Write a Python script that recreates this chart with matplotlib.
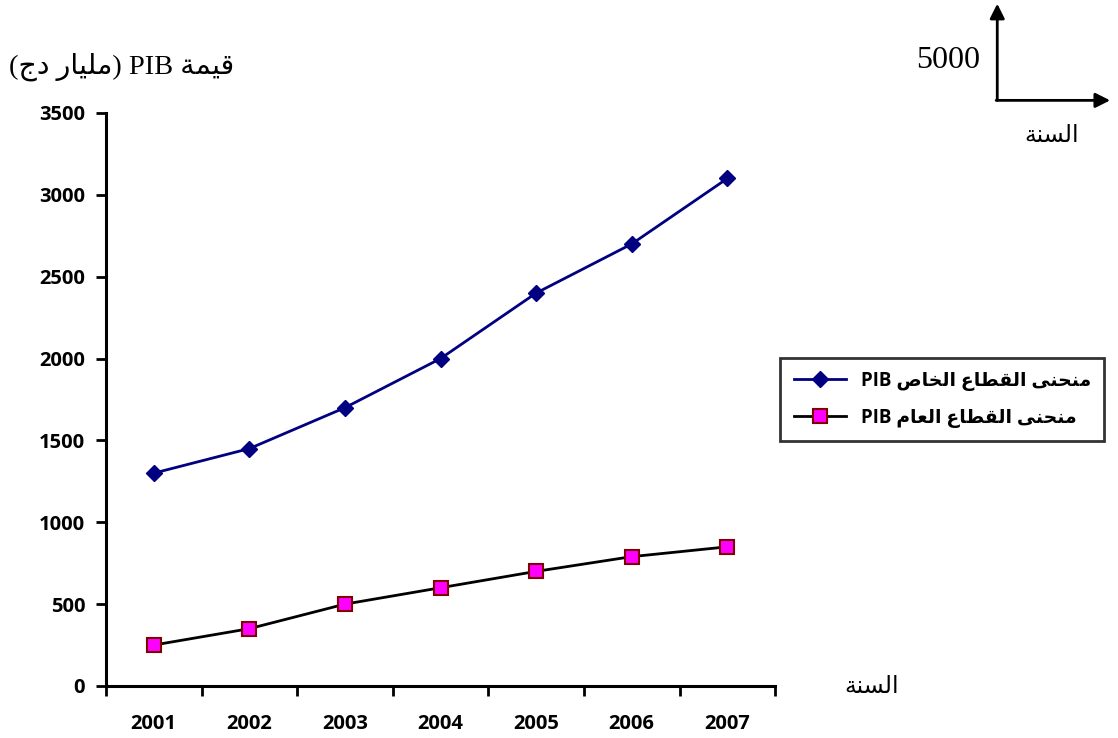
import numpy as np
import matplotlib.pyplot as plt

# السنوات وقيم الناتج (مليار دج)
annees = ['2001', '2002', '2003', '2004', '2005', '2006', '2007']
pib_prive = [1300, 1450, 1700, 2000, 2400, 2700, 3100]
pib_public = [250, 350, 500, 600, 700, 790, 850]

# اشكال الحروف: (منفرد، نهائي، بدائي، وسطي)
FORMES = {
    'ا': (0xFE8D, 0xFE8E, None, None),
    'ة': (0xFE93, 0xFE94, None, None),
    'ج': (0xFE9D, 0xFE9E, 0xFE9F, 0xFEA0),
    'ح': (0xFEA1, 0xFEA2, 0xFEA3, 0xFEA4),
    'خ': (0xFEA5, 0xFEA6, 0xFEA7, 0xFEA8),
    'د': (0xFEA9, 0xFEAA, None, None),
    'ر': (0xFEAD, 0xFEAE, None, None),
    'س': (0xFEB1, 0xFEB2, 0xFEB3, 0xFEB4),
    'ص': (0xFEB9, 0xFEBA, 0xFEBB, 0xFEBC),
    'ط': (0xFEC1, 0xFEC2, 0xFEC3, 0xFEC4),
    'ع': (0xFEC9, 0xFECA, 0xFECB, 0xFECC),
    'ق': (0xFED5, 0xFED6, 0xFED7, 0xFED8),
    'ل': (0xFEDD, 0xFEDE, 0xFEDF, 0xFEE0),
    'م': (0xFEE1, 0xFEE2, 0xFEE3, 0xFEE4),
    'ن': (0xFEE5, 0xFEE6, 0xFEE7, 0xFEE8),
    'ى': (0xFEEF, 0xFEF0, None, None),
    'ي': (0xFEF1, 0xFEF2, 0xFEF3, 0xFEF4),
}


def arabe(texte):
    # وصل الحروف ثم قلب الترتيب للعرض من اليمين الى اليسار
    out = []
    for i, c in enumerate(texte):
        if c not in FORMES:
            out.append({'(': ')', ')': '('}.get(c, c))
            continue
        avant = texte[i - 1] if i > 0 else ''
        apres = texte[i + 1] if i + 1 < len(texte) else ''
        lie_avant = avant in FORMES and FORMES[avant][2] is not None
        lie_apres = apres in FORMES and FORMES[c][2] is not None
        iso, fin, ini, med = FORMES[c]
        if lie_avant and lie_apres:
            g = med
        elif lie_avant:
            g = fin
        elif lie_apres:
            g = ini
        else:
            g = iso
        out.append(chr(g))
    return ''.join(out)[::-1]


plt.rcParams['font.family'] = ['Open Sans', 'DejaVu Sans']
plt.rcParams['font.weight'] = 'bold'

fig = plt.figure(figsize=(11.18, 7.38), dpi=100)
ax = fig.add_axes([0.0948, 0.0705, 0.5985, 0.7764])

x = np.arange(1, len(annees) + 1)
ax.plot(x, pib_prive, color='#000080', lw=2, marker='D', ms=8,
        mfc='#000080', mec='#000080',
        label='PIB ' + arabe('منحنى القطاع الخاص'))
ax.plot(x, pib_public, color='black', lw=2, marker='s', ms=10,
        mfc='#FF00FF', mec='#800000', mew=1.5,
        label='PIB ' + arabe('منحنى القطاع العام'))

ax.set_xlim(0.5, len(annees) + 0.5)
ax.set_ylim(0, 3500)
ax.set_yticks(np.arange(0, 3501, 500))
ax.set_xticks(x)
ax.set_xticklabels(annees)
ax.set_xticks(np.arange(0.5, len(annees) + 1), minor=True)
ax.tick_params(axis='x', which='major', length=0, pad=20, labelsize=14.5)
ax.tick_params(axis='x', which='minor', length=7, width=2, direction='out')
ax.tick_params(axis='y', length=7, width=2, direction='out', pad=8,
               labelsize=14.5)

for s in ['top', 'right']:
    ax.spines[s].set_visible(False)
for s in ['left', 'bottom']:
    ax.spines[s].set_linewidth(2.2)

leg = ax.legend(loc='center left', bbox_to_anchor=(0.994, 0.5),
                prop={'weight': 'bold', 'size': 13.5}, frameon=True,
                fancybox=False, edgecolor='black', borderpad=0.7,
                handlelength=2.8, labelspacing=0.9)
leg.get_frame().set_linewidth(2)

serif = ['Liberation Serif', 'DejaVu Sans']
fig.text(0.008, 0.91, arabe('(مليار دج)') + ' PIB ' + arabe('قيمة'),
         family=serif, fontsize=20.5, fontweight='normal',
         ha='left', va='center')
fig.text(0.78, 0.068, arabe('السنة'), family=serif, fontsize=17,
         fontweight='normal', ha='center', va='center')

# مؤشر المحاور في الاعلى
fig.text(0.877, 0.918, '5000', family=serif, fontsize=23,
         fontweight='normal', ha='right', va='center')
fig.text(0.941, 0.815, arabe('السنة'), family=serif, fontsize=17,
         fontweight='normal', ha='center', va='center')
ax.annotate('', xy=(0.892, 0.995), xytext=(0.892, 0.864),
            xycoords='figure fraction', textcoords='figure fraction',
            arrowprops=dict(arrowstyle='-|>', lw=2, color='black',
                            mutation_scale=22, shrinkA=0, shrinkB=0))
ax.annotate('', xy=(0.993, 0.864), xytext=(0.891, 0.864),
            xycoords='figure fraction', textcoords='figure fraction',
            arrowprops=dict(arrowstyle='-|>', lw=2, color='black',
                            mutation_scale=22, shrinkA=0, shrinkB=0))

fig.savefig('out.png', dpi=100)
